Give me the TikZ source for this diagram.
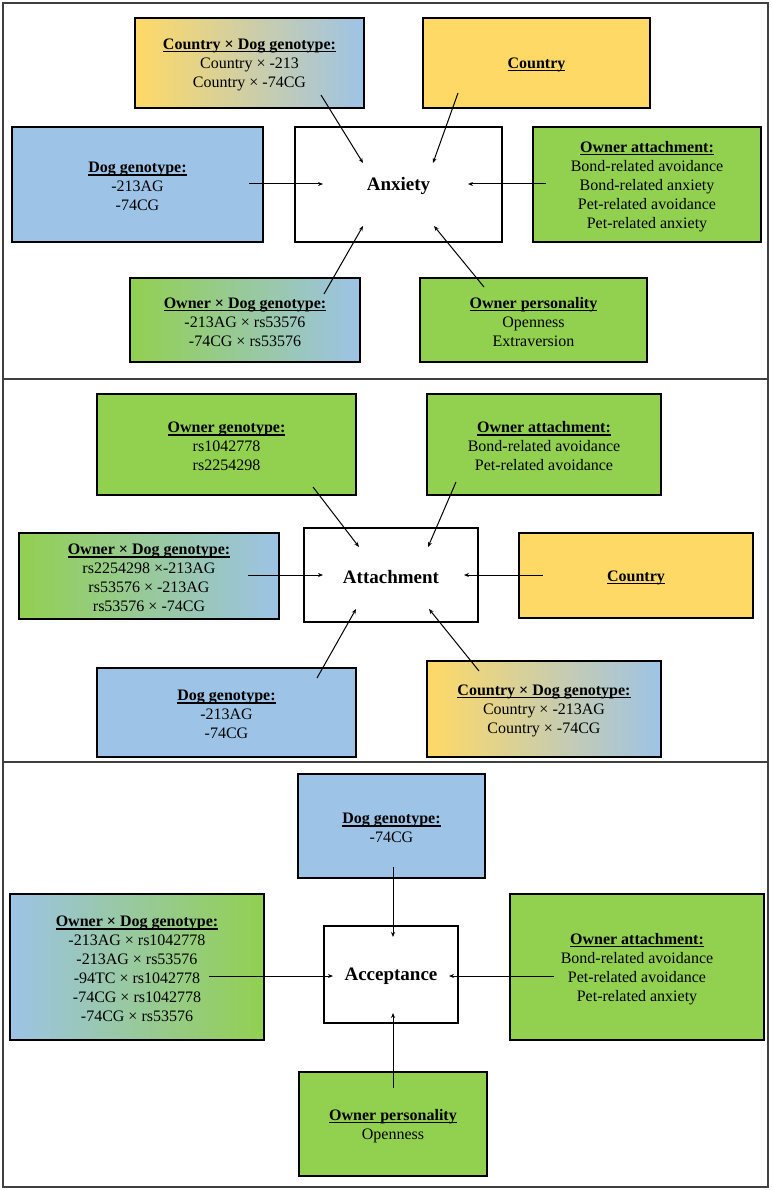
\documentclass[tikz,border=0pt]{standalone}
\usepackage{fontspec}
\setmainfont{Liberation Serif}
\usetikzlibrary{arrows.meta}
\definecolor{yel}{HTML}{FFD966}
\definecolor{blu}{HTML}{9DC3E6}
\definecolor{grn}{HTML}{92D050}
\newcommand\ttl[1]{\leavevmode\vrule height 15pt depth 0pt width 0pt\setbox0=\hbox{\bfseries #1}\copy0\llap{\rule[-2.6pt]{\wd0}{1.1pt}}}
\newcommand\fs{\fontsize{16}{19}\selectfont}
\newcommand\cstrut{\vrule height 17pt depth 0pt width 0pt}
\tikzset{
  box/.style={draw=black, line width=1.2pt, align=center, inner sep=2pt, font=\fs},
  ctr/.style={box, fill=white, font=\bfseries\fontsize{19}{22}\selectfont},
  arr/.style={-{Stealth[length=5pt,width=4pt]}, line width=1pt},
  panel/.style={draw=black!75, line width=1.3pt}
}
\begin{document}
\begin{tikzpicture}[x=1pt,y=-1pt]
\useasboundingbox (0,0) rectangle (771,1190);
\fill[white] (0,0) rectangle (771,1190);
% panels
\draw[panel] (3,3) rectangle (768,379);
\draw[panel] (3,379) rectangle (768,762);
\draw[panel] (3,762) rectangle (768,1187);

% ---------- Panel 1 ----------
\node[box, left color=yel, right color=blu, minimum width=229, minimum height=90] (cd1) at (249.5,63)
  {\ttl{Country × Dog genotype:}\\Country × -213\\Country × -74CG};
\node[box, fill=yel, minimum width=227, minimum height=90] (co1) at (536.5,63) {\ttl{Country}};
\node[box, fill=blu, minimum width=251, minimum height=115] (dg1) at (137.5,184.5)
  {\ttl{Dog genotype:}\\-213AG\\-74CG};
\node[ctr, minimum width=207, minimum height=115] (anx) at (398.5,184.5) {\cstrut Anxiety};
\node[box, fill=grn, minimum width=228, minimum height=115] (oa1) at (647,184.5)
  {\ttl{Owner attachment:}\\Bond-related avoidance\\Bond-related anxiety\\Pet-related avoidance\\Pet-related anxiety};
\node[box, left color=grn, right color=blu, minimum width=230, minimum height=84] (od1) at (245,320)
  {\ttl{Owner × Dog genotype:}\\-213AG × rs53576\\-74CG × rs53576};
\node[box, fill=grn, minimum width=227, minimum height=84] (op1) at (533.5,320)
  {\ttl{Owner personality}\\Openness\\Extraversion};

\coordinate (cd1o) at (321,95);   \coordinate (anx1) at (363,163);
\coordinate (co1o) at (458,93);   \coordinate (anx2) at (433,163);
\coordinate (dg1o) at (249,184);  \coordinate (anx3) at (323,184);
\coordinate (oa1o) at (546,184);  \coordinate (anx4) at (468,184);
\coordinate (od1o) at (324,294);  \coordinate (anx5) at (363,226);
\coordinate (op1o) at (484,287);  \coordinate (anx6) at (434,226);
\draw[arr] (cd1o) -- (anx1);
\draw[arr] (co1o) -- (anx2);
\draw[arr] (dg1o) -- (anx3);
\draw[arr] (oa1o) -- (anx4);
\draw[arr] (od1o) -- (anx5);
\draw[arr] (op1o) -- (anx6);

% ---------- Panel 2 ----------
\node[box, fill=grn, minimum width=259, minimum height=101] (og2) at (226.5,444.5)
  {\ttl{Owner genotype:}\\rs1042778\\rs2254298};
\node[box, fill=grn, minimum width=234, minimum height=101] (oa2) at (544,444.5)
  {\ttl{Owner attachment:}\\Bond-related avoidance\\Pet-related avoidance};
\node[box, left color=grn, right color=blu, minimum width=260, minimum height=86] (od2) at (149,576)
  {\ttl{Owner × Dog genotype:}\\rs2254298 ×-213AG\\rs53576 × -213AG\\rs53576 × -74CG};
\node[ctr, minimum width=174, minimum height=94] (att) at (391,575) {\cstrut Attachment};
\node[box, fill=yel, minimum width=234, minimum height=85] (co2) at (636,575.5) {\ttl{Country}};
\node[box, fill=blu, minimum width=259, minimum height=89] (dg2) at (226.5,712.5)
  {\ttl{Dog genotype:}\\-213AG\\-74CG};
\node[box, left color=yel, right color=blu, minimum width=234, minimum height=96] (cd2) at (544,709)
  {\ttl{Country × Dog genotype:}\\Country × -213AG\\Country × -74CG};

\coordinate (og2o) at (313,487);  \coordinate (att1) at (359,547);
\coordinate (oa2o) at (456,482);  \coordinate (att2) at (428,547);
\coordinate (od2o) at (248,575);  \coordinate (att3) at (323,575);
\coordinate (co2o) at (543,575);  \coordinate (att4) at (464,575);
\coordinate (dg2o) at (317,678);  \coordinate (att5) at (356,609);
\coordinate (cd2o) at (479,671);  \coordinate (att6) at (429,609);
\draw[arr] (og2o) -- (att1);
\draw[arr] (oa2o) -- (att2);
\draw[arr] (od2o) -- (att3);
\draw[arr] (co2o) -- (att4);
\draw[arr] (dg2o) -- (att5);
\draw[arr] (cd2o) -- (att6);

% ---------- Panel 3 ----------
\node[box, fill=blu, minimum width=187, minimum height=104] (dg3) at (391.5,826)
  {\ttl{Dog genotype:}\\-74CG};
\node[box, left color=blu, right color=grn, minimum width=254, minimum height=146] (od3) at (137,967)
  {\ttl{Owner × Dog genotype:}\\-213AG × rs1042778\\-213AG × rs53576\\-94TC × rs1042778\\-74CG × rs1042778\\-74CG × rs53576};
\node[ctr, minimum width=134, minimum height=97] (acc) at (391,974.5) {\cstrut Acceptance};
\node[box, fill=grn, minimum width=254, minimum height=146] (oa3) at (637,967)
  {\ttl{Owner attachment:}\\Bond-related avoidance\\Pet-related avoidance\\Pet-related anxiety};
\node[box, fill=grn, minimum width=188, minimum height=104] (op3) at (393,1124)
  {\ttl{Owner personality}\\Openness};

\coordinate (dg3o) at (393,867);  \coordinate (acc1) at (393,937);
\coordinate (od3o) at (209,976);  \coordinate (acc2) at (333,976);
\coordinate (oa3o) at (554,976);  \coordinate (acc3) at (449,976);
\coordinate (op3o) at (393,1088); \coordinate (acc4) at (393,1013);
\draw[arr] (dg3o) -- (acc1);
\draw[arr] (od3o) -- (acc2);
\draw[arr] (oa3o) -- (acc3);
\draw[arr] (op3o) -- (acc4);
\end{tikzpicture}
\end{document}
